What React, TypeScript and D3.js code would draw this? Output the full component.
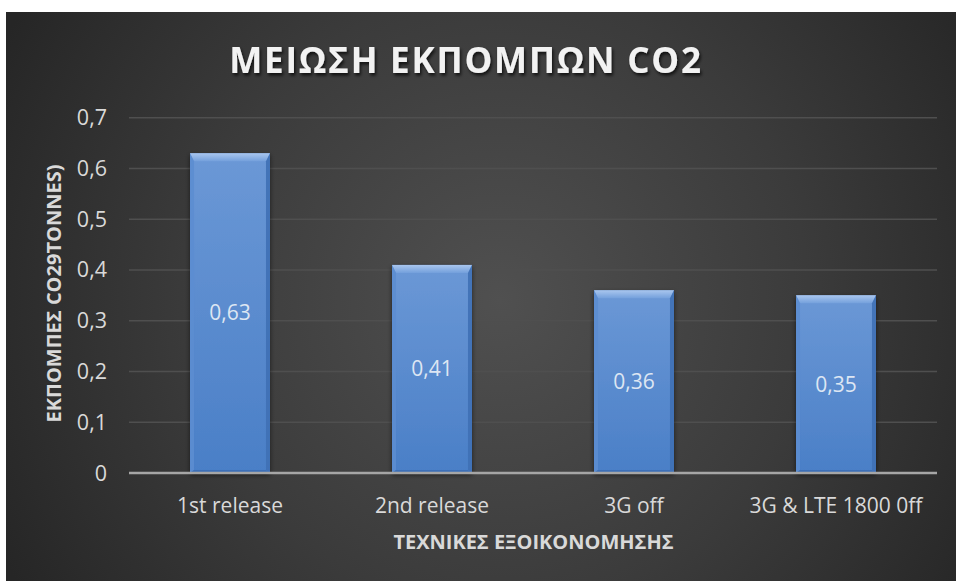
import React from "react";
import * as d3 from "d3";

const categories = ["1st release", "2nd release", "3G off", "3G & LTE 1800 0ff"];
const values = [0.63, 0.41, 0.36, 0.35];
const yTicks = [0, 0.1, 0.2, 0.3, 0.4, 0.5, 0.6, 0.7];
const title = "ΜΕΙΩΣΗ ΕΚΠΟΜΠΩΝ CO2";
const xTitle = "ΤΕΧΝΙΚΕΣ ΕΞΟΙΚΟΝΟΜΗΣΗΣ";
const yTitle = "ΕΚΠΟΜΠΕΣ CO29TONNES)";

const W = 956;
const H = 581;
const FONT = "'Open Sans', 'DejaVu Sans', sans-serif";

const fmt = (v: number) => (v === 0 ? "0" : d3.format(".1f")(v).replace(".", ","));
const fmt2 = (v: number) => d3.format(".2f")(v).replace(".", ",");

export default function App() {
  const plot = { left: 129, right: 937, top: 117.7, bottom: 473 };
  const x = d3
    .scaleBand<string>()
    .domain(categories)
    .range([plot.left, plot.right])
    .paddingInner(0.604)
    .paddingOuter(0.302);
  const y = d3.scaleLinear().domain([0, 0.7]).range([plot.bottom, plot.top]);
  const bw = x.bandwidth();
  const bt = 8; // bevel top
  const bs = 4; // bevel side

  return (
    <svg
      width={W}
      height={H}
      style={{ position: "absolute", left: 0, top: 0, background: "#ffffff" }}
    >
      <defs>
        <radialGradient id="bg" cx="500" cy="300" r="560" gradientUnits="userSpaceOnUse">
          <stop offset="0" stopColor="#505050" />
          <stop offset="0.55" stopColor="#3b3b3b" />
          <stop offset="1" stopColor="#262626" />
        </radialGradient>
        <linearGradient id="face" x1="0" y1="0" x2="0" y2="1">
          <stop offset="0" stopColor="#6b98d6" />
          <stop offset="1" stopColor="#4a7fc7" />
        </linearGradient>
        <linearGradient id="topb" x1="0" y1="0" x2="0" y2="1">
          <stop offset="0" stopColor="#a9c6ee" />
          <stop offset="1" stopColor="#74a0dc" />
        </linearGradient>
        <filter id="tshadow" x="-10%" y="-30%" width="120%" height="160%">
          <feDropShadow dx="1.5" dy="2.5" stdDeviation="1.8" floodColor="#000" floodOpacity="0.7" />
        </filter>
        <filter id="bshadow" x="-20%" y="-10%" width="140%" height="130%">
          <feDropShadow dx="0" dy="2" stdDeviation="2.5" floodColor="#000" floodOpacity="0.55" />
        </filter>
      </defs>

      <rect x={6} y={12} width={W - 6} height={H - 12} fill="url(#bg)" />

      <text
        x={466}
        y={73}
        textAnchor="middle"
        fill="#f2f2f2"
        fontFamily={FONT}
        fontWeight="bold"
        fontSize={35}
        letterSpacing={1.8}
        filter="url(#tshadow)"
      >
        {title}
      </text>

      {yTicks.slice(1).map((t) => (
        <line
          key={"g" + t}
          x1={plot.left}
          x2={plot.right}
          y1={y(t)}
          y2={y(t)}
          stroke="#4f4f4f"
          strokeWidth={1.5}
        />
      ))}

      {yTicks.map((t) => (
        <text
          key={"t" + t}
          x={107}
          y={y(t)}
          dy="0.35em"
          textAnchor="end"
          fill="#d9d9d9"
          fontFamily={FONT}
          fontSize={21.5}
        >
          {fmt(t)}
        </text>
      ))}

      {categories.map((c, i) => {
        const x0 = x(c) as number;
        const x1 = x0 + bw;
        const y0 = y(values[i]);
        const y1 = y(0);
        return (
          <g key={c}>
            <rect x={x0} y={y0} width={bw} height={y1 - y0} fill="url(#face)" filter="url(#bshadow)" />
            <polygon
              points={`${x0},${y0} ${x1},${y0} ${x1 - bs},${y0 + bt} ${x0 + bs},${y0 + bt}`}
              fill="url(#topb)"
            />
            <polygon
              points={`${x0},${y0} ${x0 + bs},${y0 + bt} ${x0 + bs},${y1 - 3} ${x0},${y1}`}
              fill="#5c8dd0"
              opacity={0.9}
            />
            <polygon
              points={`${x1},${y0} ${x1 - bs},${y0 + bt} ${x1 - bs},${y1 - 3} ${x1},${y1}`}
              fill="#3f70b5"
              opacity={0.9}
            />
            <polygon
              points={`${x0},${y1} ${x0 + bs},${y1 - 3} ${x1 - bs},${y1 - 3} ${x1},${y1}`}
              fill="#3d6fb6"
            />
            <text
              x={x0 + bw / 2}
              y={(y0 + y1) / 2}
              dy="0.35em"
              textAnchor="middle"
              fill="#dde6f3"
              fontFamily={FONT}
              fontSize={21}
            >
              {fmt2(values[i])}
            </text>
          </g>
        );
      })}

      <line x1={plot.left} x2={plot.right} y1={y(0)} y2={y(0)} stroke="#a6a6a6" strokeWidth={2.5} />

      {categories.map((c) => (
        <text
          key={"c" + c}
          x={(x(c) as number) + bw / 2}
          y={513}
          textAnchor="middle"
          fill="#d9d9d9"
          fontFamily={FONT}
          fontSize={21}
        >
          {c}
        </text>
      ))}

      <text
        x={533.5}
        y={549}
        textAnchor="middle"
        fill="#d9d9d9"
        fontFamily={FONT}
        fontWeight="bold"
        fontSize={20}
      >
        {xTitle}
      </text>

      <text
        transform={`translate(61,293.5) rotate(-90)`}
        textAnchor="middle"
        fill="#d9d9d9"
        fontFamily={FONT}
        fontWeight="bold"
        fontSize={20}
      >
        {yTitle}
      </text>
    </svg>
  );
}
